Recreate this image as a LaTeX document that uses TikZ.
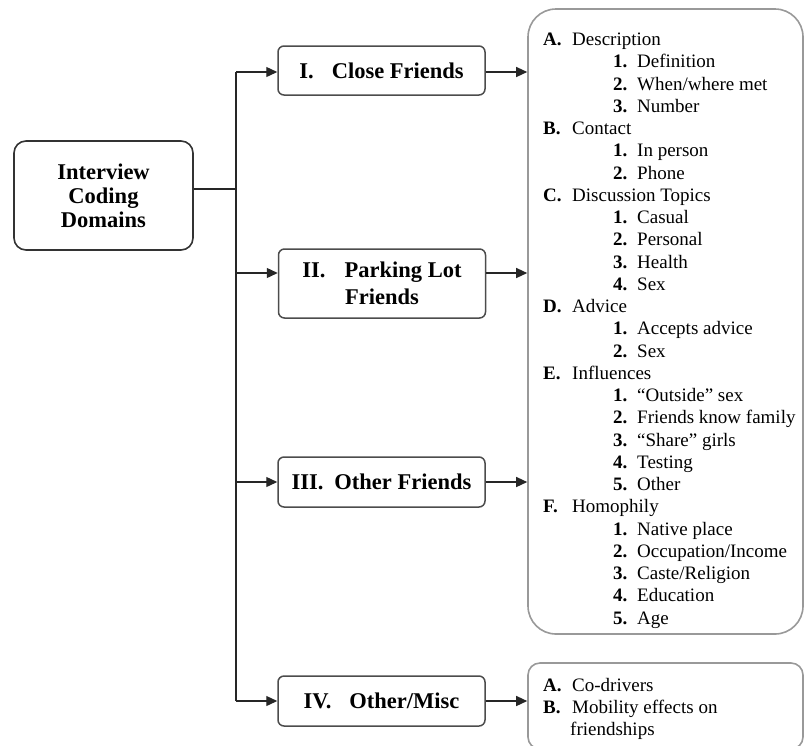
\documentclass[tikz,border=0pt]{standalone}
\usepackage{fontspec}
\setmainfont{Liberation Serif}
\usetikzlibrary{arrows.meta}
\tikzset{
  conn/.style={line width=1.3pt, draw=black!85},
  arr/.style={conn, -{Triangle[length=11pt,width=10pt]}},
  mainbox/.style={draw=black!80, line width=1.6pt, rounded corners=12pt, inner sep=0pt,
     minimum width=179pt, minimum height=109pt, align=center,
     font=\bfseries\fontsize{22.5}{24}\selectfont},
  catbox/.style={draw=black!70, line width=1.5pt, rounded corners=6pt, inner sep=0pt,
     minimum width=207pt, align=center,
     font=\bfseries\fontsize{22.5}{27}\selectfont},
  listbox/.style={draw=black!40, line width=1.6pt, inner sep=0pt, minimum width=275pt},
  lab/.style={anchor=base west, inner sep=0pt, font=\bfseries\fontsize{19}{22}\selectfont},
  txt/.style={anchor=base west, inner sep=0pt, font=\fontsize{19}{22}\selectfont},
}
\newcommand\LetterLine[4]{%
  \node[lab] (#1l) at (543,{45.5+22.25*#2}) {#3};
  \node[txt] (#1t) at (572,{45.5+22.25*#2}) {#4};}
\newcommand\NumLine[4]{%
  \node[lab] (#1l) at (613,{45.5+22.25*#2}) {#3};
  \node[txt] (#1t) at (637,{45.5+22.25*#2}) {#4};}
\begin{document}
\begin{tikzpicture}[x=1pt,y=-1pt]
\useasboundingbox (0,0) rectangle (805,745);

% main node
\node[mainbox] (main) at (103.5,195.5) {Interview\\Coding\\Domains};

% category boxes
\node[catbox, minimum height=49pt] (b1) at (381.5,70.5) {I.\hspace{18pt}Close Friends};
\node[catbox, minimum height=69pt] (b2) at (382,283.5) {II.\hspace{19pt}Parking Lot\\Friends};
\node[catbox, minimum height=50pt] (b3) at (381.5,482) {III.\hspace{11pt}Other Friends};
\node[catbox, minimum height=50pt] (b4) at (381.5,701) {IV.\hspace{18pt}Other/Misc};

% right boxes
\node[listbox, rounded corners=28pt, minimum height=625pt] (big) at (665.5,321.5) {};
\node[listbox, rounded corners=12pt, minimum height=86pt] (small) at (665.5,706) {};

% trunk
\coordinate (j) at (236,189);
\coordinate (t1) at (236,72);
\coordinate (t2) at (236,273);
\coordinate (t3) at (236,482);
\coordinate (t4) at (236,701);
\draw[conn] (main.east |- j) -- (j);
\draw[conn] (t4) -- (t1);
\draw[arr] (t1) -- (t1 -| b1.west);
\draw[arr] (t2) -- (t2 -| b2.west);
\draw[arr] (t3) -- (t3 -| b3.west);
\draw[arr] (t4) -- (t4 -| b4.west);
\draw[arr] (t1 -| b1.east) -- (t1 -| big.west);
\draw[arr] (t2 -| b2.east) -- (t2 -| big.west);
\draw[arr] (t3 -| b3.east) -- (t3 -| big.west);
\draw[arr] (t4 -| b4.east) -- (t4 -| small.west);

% list
\LetterLine{a}{0}{A.}{Description}
\NumLine{a1}{1}{1.}{Definition}
\NumLine{a2}{2}{2.}{When/where met}
\NumLine{a3}{3}{3.}{Number}
\LetterLine{b}{4}{B.}{Contact}
\NumLine{b1}{5}{1.}{In person}
\NumLine{b2}{6}{2.}{Phone}
\LetterLine{c}{7}{C.}{Discussion Topics}
\NumLine{c1}{8}{1.}{Casual}
\NumLine{c2}{9}{2.}{Personal}
\NumLine{c3}{10}{3.}{Health}
\NumLine{c4}{11}{4.}{Sex}
\LetterLine{d}{12}{D.}{Advice}
\NumLine{d1}{13}{1.}{Accepts advice}
\NumLine{d2}{14}{2.}{Sex}
\LetterLine{e}{15}{E.}{Influences}
\NumLine{e1}{16}{1.}{“Outside” sex}
\NumLine{e2}{17}{2.}{Friends know family}
\NumLine{e3}{18}{3.}{“Share” girls}
\NumLine{e4}{19}{4.}{Testing}
\NumLine{e5}{20}{5.}{Other}
\LetterLine{f}{21}{F.}{Homophily}
\NumLine{f1}{22}{1.}{Native place}
\NumLine{f2}{23}{2.}{Occupation/Income}
\NumLine{f3}{24}{3.}{Caste/Religion}
\NumLine{f4}{25}{4.}{Education}
\NumLine{f5}{26}{5.}{Age}

% small list
\node[lab] (sal) at (543,691.5) {A.};
\node[txt] (sat) at (572,691.5) {Co-drivers};
\node[lab] (sbl) at (543,713.5) {B.};
\node[txt] (sbt) at (572,713.5) {Mobility effects on};
\node[txt] (sbt2) at (570,735) {friendships};
\end{tikzpicture}
\end{document}
